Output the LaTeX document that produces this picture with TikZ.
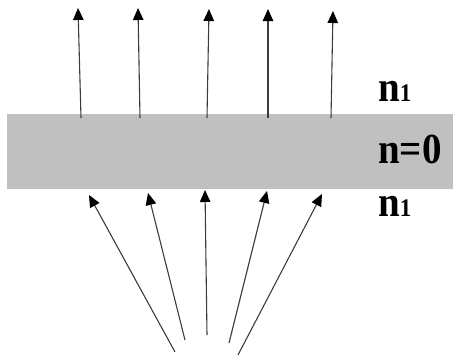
\documentclass[tikz,border=0pt]{standalone}
\usepackage{fontspec}
\setmainfont{Liberation Serif}
\usetikzlibrary{arrows.meta}
\definecolor{slab}{RGB}{192,192,192}
\definecolor{ray}{RGB}{60,60,60}
\tikzset{
  raypath/.style={draw=ray, line width=1.1pt,
    -{Triangle[length=12pt,width=10.5pt,color=black]}},
  idx/.style={inner sep=0pt, anchor=base west, text=black, yscale=1.1,
    font=\bfseries\fontsize{39}{41}\selectfont},
}
\newcommand{\subone}{{\fontsize{23}{25}\selectfont 1}}
\begin{document}
\begin{tikzpicture}[x=1pt,y=-1pt]
  \useasboundingbox (0,0) rectangle (453,356);
  % index-zero layer
  \fill[slab] (7,114) rectangle (453,189);

  % transmitted rays above the layer
  \foreach \i/\xa/\xb/\yb in {1/81/78/8, 2/140/138/8, 3/207/209/9, 4/268/268/9, 5/331/333/11}{
    \coordinate (up\i s) at (\xa,118);
    \coordinate (up\i e) at (\xb,\yb);
    \draw[raypath] (up\i s) -- (up\i e);
  }

  % incident rays below the layer
  \foreach \i/\xa/\ya/\xb/\yb in {1/175/352/89/195, 2/185/340/148/193, 3/207/335/205/190, 4/229/343/267/191, 5/238/355/322/194}{
    \coordinate (lo\i s) at (\xa,\ya);
    \coordinate (lo\i e) at (\xb,\yb);
    \draw[raypath] (lo\i s) -- (lo\i e);
  }

  % refractive index labels
  \node[idx] (ntop) at (378,101) {n\subone};
  \node[idx] (nmid) at (378,163) {n=0};
  \node[idx] (nbot) at (378,216) {n\subone};
\end{tikzpicture}
\end{document}
